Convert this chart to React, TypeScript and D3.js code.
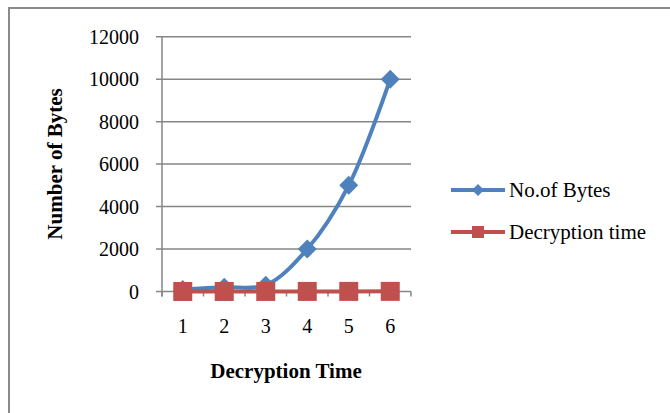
import React from "react";
import * as d3 from "d3";

const categories = ["1", "2", "3", "4", "5", "6"];
const bytesValues = [100, 200, 300, 2000, 5000, 10000];
const decryptValues = [1, 2, 3, 4, 5, 6];
const yTicks = [0, 2000, 4000, 6000, 8000, 10000, 12000];
const seriesNames = ["No.of Bytes", "Decryption time"];

const W = 670;
const H = 413;
const BLUE = "#4F81BD";
const RED = "#C0504D";
const GRID = "#868686";
const FONT = "'Liberation Serif', 'Times New Roman', serif";

export default function App() {
  const x0 = 162;
  const x1 = 411;
  const xBand = d3.scaleBand<string>().domain(categories).range([x0, x1]).padding(0);
  const xc = (c: string) => (xBand(c) as number) + xBand.bandwidth() / 2;
  const y = d3.scaleLinear().domain([0, 12000]).range([291.5, 36.7]);

  const line = d3
    .line<number>()
    .x((_, i) => xc(categories[i]))
    .y((d) => y(d))
    .curve(d3.curveCatmullRom.alpha(0.5));
  const line2 = d3
    .line<number>()
    .x((_, i) => xc(categories[i]))
    .y((d) => y(d));

  const diamond = (cx: number, cy: number, r: number) =>
    `M${cx},${cy - r}L${cx + r},${cy}L${cx},${cy + r}L${cx - r},${cy}Z`;

  const boundaries = [...categories.map((c) => xBand(c) as number), x1];

  return (
    <div style={{ position: "absolute", left: 0, top: 0 }}>
      <svg width={W} height={H} style={{ display: "block" }}>
        <rect x={0} y={0} width={W} height={H} fill="#fff" />
        <rect x={9} y={8} width={W + 20} height={H + 20} fill="none" stroke="#8a8a8a" strokeWidth={2} />
        {/* gridlines */}
        {yTicks.map((t) => (
          <line key={"g" + t} x1={156} x2={x1} y1={y(t)} y2={y(t)} stroke={GRID} strokeWidth={1.5} />
        ))}
        {/* y axis */}
        <line x1={x0} x2={x0} y1={y(12000)} y2={y(0) + 5} stroke={GRID} strokeWidth={1.5} />
        {/* x axis ticks */}
        {boundaries.map((b, i) => (
          <line key={"xt" + i} x1={b} x2={b} y1={y(0)} y2={y(0) + 5} stroke={GRID} strokeWidth={1.5} />
        ))}
        {/* y tick labels */}
        {yTicks.map((t) => (
          <text key={"yl" + t} x={139} y={y(t)} dy="0.35em" textAnchor="end" fontFamily={FONT} fontSize={20} fill="#000">
            {t}
          </text>
        ))}
        {/* x tick labels */}
        {categories.map((c) => (
          <text key={"xl" + c} x={xc(c)} y={333} textAnchor="middle" fontFamily={FONT} fontSize={20} fill="#000">
            {c}
          </text>
        ))}
        {/* axis titles */}
        <text x={286} y={378} textAnchor="middle" fontFamily={FONT} fontSize={21} fontWeight="bold" fill="#000">
          Decryption Time
        </text>
        <text
          transform={`translate(62,${164}) rotate(-90)`}
          textAnchor="middle"
          fontFamily={FONT}
          fontSize={21}
          fontWeight="bold"
          fill="#000"
        >
          Number of Bytes
        </text>
        {/* blue series */}
        <path d={line(bytesValues) || ""} fill="none" stroke={BLUE} strokeWidth={4} />
        {bytesValues.map((v, i) => (
          <path key={"d" + i} d={diamond(xc(categories[i]), y(v), 9.5)} fill={BLUE} />
        ))}
        {/* red series */}
        <path d={line2(decryptValues) || ""} fill="none" stroke={RED} strokeWidth={4} />
        {decryptValues.map((v, i) => (
          <rect key={"s" + i} x={xc(categories[i]) - 9.5} y={y(v) - 9.5} width={19} height={19} fill={RED} />
        ))}
        {/* legend */}
        <line x1={451} x2={505} y1={190} y2={190} stroke={BLUE} strokeWidth={4} />
        <path d={diamond(478, 190, 6)} fill={BLUE} />
        <text x={509} y={190} dy="0.35em" fontFamily={FONT} fontSize={21} fill="#000">
          {seriesNames[0]}
        </text>
        <line x1={451} x2={505} y1={232} y2={232} stroke={RED} strokeWidth={4} />
        <rect x={472} y={226} width={12} height={12} fill={RED} />
        <text x={509} y={232} dy="0.35em" fontFamily={FONT} fontSize={21} fill="#000">
          {seriesNames[1]}
        </text>
      </svg>
    </div>
  );
}
